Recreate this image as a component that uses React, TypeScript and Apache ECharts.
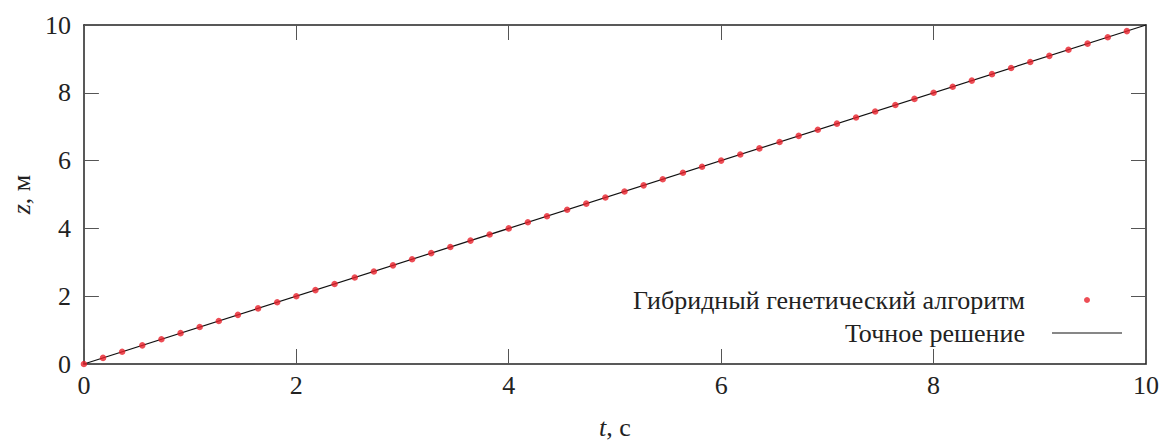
import React, { useEffect, useRef } from "react";
import * as echarts from "echarts";

const tValues: number[] = [
  0, 0.18, 0.36, 0.55, 0.73, 0.91, 1.09, 1.27, 1.45, 1.64, 1.82,
  2.0, 2.18, 2.36, 2.55, 2.73, 2.91, 3.09, 3.27, 3.45, 3.64, 3.82,
  4.0, 4.18, 4.36, 4.55, 4.73, 4.91, 5.09, 5.27, 5.45, 5.64, 5.82,
  6.0, 6.18, 6.36, 6.55, 6.73, 6.91, 7.09, 7.27, 7.45, 7.64, 7.82,
  8.0, 8.18, 8.36, 8.55, 8.73, 8.91, 9.09, 9.27, 9.45, 9.64, 9.82,
];
const zGA: number[] = [
  0, 0.18, 0.36, 0.55, 0.73, 0.91, 1.09, 1.27, 1.45, 1.64, 1.82,
  2.0, 2.18, 2.36, 2.55, 2.73, 2.91, 3.09, 3.27, 3.45, 3.64, 3.82,
  4.0, 4.18, 4.36, 4.55, 4.73, 4.91, 5.09, 5.27, 5.45, 5.64, 5.82,
  6.0, 6.18, 6.36, 6.55, 6.73, 6.91, 7.09, 7.27, 7.45, 7.64, 7.82,
  8.0, 8.18, 8.36, 8.55, 8.73, 8.91, 9.09, 9.27, 9.45, 9.64, 9.82,
];
const exactT: number[] = [0, 10];
const exactZ: number[] = [0, 10];

const seriesGA = "Гибридный генетический алгоритм";
const seriesExact = "Точное решение";

const FONT = "Liberation Serif";
const FS = 26;

export default function App() {
  const ref = useRef<HTMLDivElement>(null);
  useEffect(() => {
    document.body.style.margin = "0";
    const chart = echarts.init(ref.current!, null, { renderer: "svg" });
    const axisLine = { show: true, onZero: false, lineStyle: { color: "#222", width: 1.5 } };
    const tick = { show: true, inside: true, length: 15, lineStyle: { color: "#555", width: 1 } };
    const richA = { fontFamily: FONT, fontSize: FS, color: "#222" };
    const nameStyle = {
      fontFamily: FONT,
      fontSize: FS,
      color: "#222",
      rich: { i: { fontFamily: FONT, fontSize: FS, fontStyle: "italic", color: "#222" } },
    };
    chart.setOption({
      animation: false,
      backgroundColor: "#fff",
      textStyle: { fontFamily: FONT },
      grid: { left: 80, right: 22, top: 25, bottom: 76, containLabel: false },
      legend: {
        orient: "vertical",
        right: 41,
        top: 282,
        align: "right",
        itemWidth: 70,
        itemHeight: 6,
        itemGap: 7,
        selectedMode: false,
        formatter: "{a|{name}}{g|}",
        data: [
          { name: seriesGA, icon: "circle", itemStyle: { color: "#e8202a" } },
          { name: seriesExact, icon: "path://M0,0H70V1H0Z", itemStyle: { color: "#111" } },
        ],
        textStyle: {
          fontFamily: FONT,
          fontSize: FS,
          rich: { a: richA, g: { width: 22 } },
        },
      },
      xAxis: [
        {
          type: "value",
          min: 0,
          max: 10,
          interval: 2,
          position: "bottom",
          axisLine,
          axisTick: tick,
          splitLine: { show: false },
          axisLabel: { fontFamily: FONT, fontSize: FS, formatter: "{a|{value}}", rich: { a: richA } },
          name: "{i|t}, с",
          nameLocation: "middle",
          nameGap: 50,
          nameTextStyle: nameStyle,
        },
        {
          type: "value",
          min: 0,
          max: 10,
          interval: 2,
          position: "top",
          axisLine,
          axisTick: tick,
          splitLine: { show: false },
          axisLabel: { show: false },
        },
      ],
      yAxis: [
        {
          type: "value",
          min: 0,
          max: 10,
          interval: 2,
          position: "left",
          axisLine,
          axisTick: tick,
          splitLine: { show: false },
          axisLabel: { fontFamily: FONT, fontSize: FS, formatter: "{a|{value}}{g|}", rich: { a: richA, g: { width: 5 } } },
          name: "{i|z}, м",
          nameLocation: "middle",
          nameGap: 46,
          nameRotate: 90,
          nameTextStyle: nameStyle,
        },
        {
          type: "value",
          min: 0,
          max: 10,
          interval: 2,
          position: "right",
          axisLine,
          axisTick: tick,
          splitLine: { show: false },
          axisLabel: { show: false },
        },
      ],
      series: [
        {
          name: seriesExact,
          type: "line",
          symbol: "none",
          data: exactT.map((t, i) => [t, exactZ[i]]),
          lineStyle: { color: "#111", width: 1.2 },
          itemStyle: { color: "#111" },
          z: 2,
        },
        {
          name: seriesGA,
          type: "scatter",
          symbol: "circle",
          symbolSize: 6.5,
          data: tValues.map((t, i) => [t, zGA[i]]),
          itemStyle: { color: "#e8202a" },
          z: 3,
        },
      ],
    });
    return () => chart.dispose();
  }, []);
  return <div ref={ref} style={{ width: 1168, height: 445 }} />;
}
